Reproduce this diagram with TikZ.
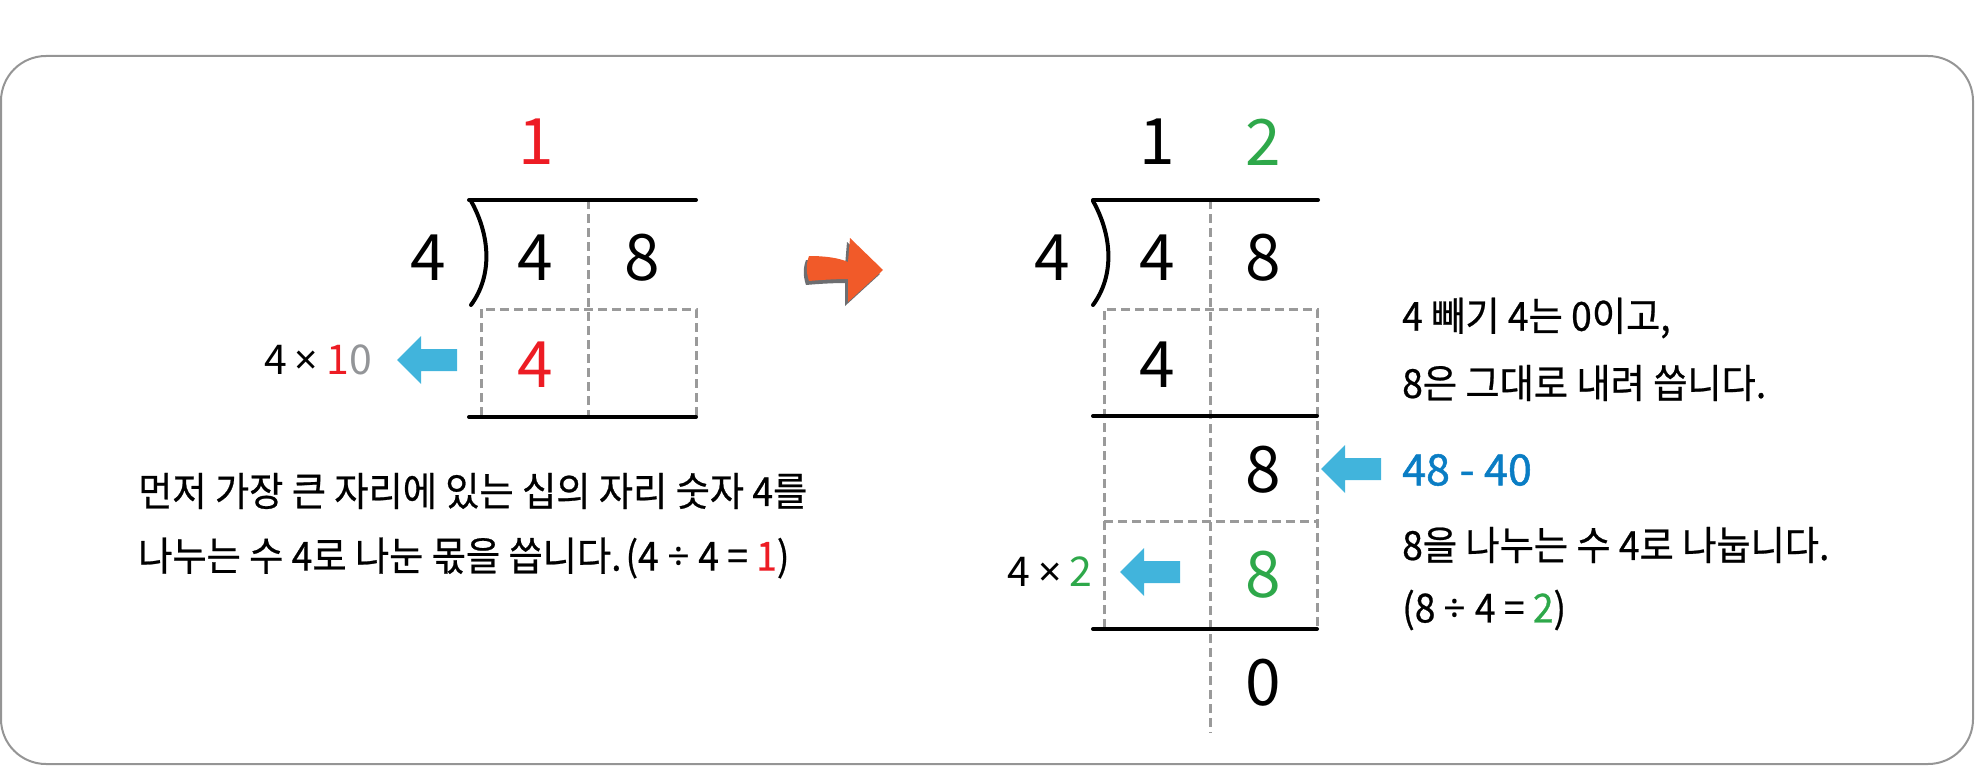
\documentclass[tikz,border=0pt]{standalone}
\usepackage{fontspec}
\setmainfont{Noto Sans CJK KR}
\newfontfamily\kr[FakeStretch=0.93, FakeBold=0.6]{Noto Sans CJK KR}
\newfontfamily\krb[FakeBold=1.2]{Noto Sans CJK KR}
\newfontfamily\sym{Noto Sans}
\newcommand\xmul{{\sym ×}}
\newcommand\xdiv{{\sym ÷}}
\definecolor{qred}{HTML}{ED1C24}
\definecolor{qgreen}{HTML}{2EA84A}
\definecolor{arrowblue}{HTML}{41B4DC}
\definecolor{textblue}{HTML}{0A7DC4}
\definecolor{dashgray}{HTML}{9A9A9A}
\definecolor{framegray}{HTML}{959595}
\definecolor{orangearrow}{HTML}{F15A29}
\definecolor{shadowgray}{HTML}{6D6E71}
\definecolor{zerogray}{HTML}{939598}
\begin{document}
\begin{tikzpicture}[x=1pt, y=-1pt,
    big/.style = {inner sep=0pt, font=\fontsize{64}{64}\selectfont},
    small/.style = {inner sep=0pt, font=\fontsize{41}{41}\selectfont},
    txt/.style = {inner sep=0pt, anchor=west, font=\kr\fontsize{40}{40}\selectfont},
    rule/.style = {line width=4pt, line cap=round},
    grid/.style = {line width=3pt, dashgray, dash pattern=on 9pt off 5pt},
    larrow/.pic = {\fill[arrowblue] (0,0) -- (24,-24) -- (24,-11) -- (60,-11) -- (60,11) -- (24,11) -- (24,24) -- cycle;}]
    \useasboundingbox (0,0) rectangle (1975,768);
    \draw[framegray, line width=2pt, rounded corners=45pt] (1,56) rectangle (1973,764);

    \draw[grid] (588,200) -- (588,416);
    \draw[grid] (481,416) -- (481,309) -- (696,309) -- (696,416);
    \draw[rule] (469,200) -- (696,200);
    \draw[rule] (469,417) -- (696,417);
    \draw[rule] (471,201) .. controls (490,235) and (493,275) .. (471,305);
    \node[big, qred] (q1) at (536,142) {1};
    \node[big] (d1) at (428,258) {4};
    \node[big] (a1) at (535,258) {4};
    \node[big] (b1) at (642,258) {8};
    \node[big, qred] (m1) at (535,365) {4};
    \node[small] (p1) at (318,360) {4\hspace{8pt}\xmul\hspace{8pt}\textcolor{qred}{1}\textcolor{zerogray}{0}};
    \pic at (397,360) {larrow};
    \node[txt] (s1) at (138,491) {먼저 가장 큰 자리에 있는 십의 자리 숫자 4를};
    \node[txt] (s2) at (138,558) {나누는 수 4로 나눈 몫을 씁니다.\hspace{4pt}(4 \xdiv{} 4 = \textcolor{qred}{1})};

    \fill[shadowgray] (806,260) .. controls (823,260) and (836,262) .. (845,266) -- (847,242) -- (880,274) -- (845,306) -- (845,283) .. controls (832,283) and (817,284) .. (806,285) .. controls (803,276) and (803,268) .. (806,260) -- cycle;
    \fill[orangearrow] (809,256) .. controls (826,256) and (839,258) .. (848,262) -- (850,238) -- (883,270) -- (848,302) -- (848,279) .. controls (835,279) and (820,280) .. (809,281) .. controls (806,272) and (806,264) .. (809,256) -- cycle;

    \draw[grid] (1210,200) -- (1210,733);
    \draw[grid] (1104,628) -- (1104,309) -- (1317,309) -- (1317,628);
    \draw[grid] (1104,521) -- (1317,521);
    \draw[rule] (1093,200) -- (1318,200);
    \draw[rule] (1093,416) -- (1317,416);
    \draw[rule] (1093,629) -- (1317,629);
    \draw[rule] (1093,201) .. controls (1112,235) and (1115,275) .. (1093,305);
    \node[big] (q2) at (1157,142) {1};
    \node[big, qgreen] (r2) at (1263,142) {2};
    \node[big] (d2) at (1052,258) {4};
    \node[big] (a2) at (1157,258) {4};
    \node[big] (b2) at (1263,258) {8};
    \node[big] (m2) at (1157,365) {4};
    \node[big] (c2) at (1263,470) {8};
    \node[big, qgreen] (n2) at (1263,575) {8};
    \node[big] (z2) at (1263,683) {0};
    \node[small] (p2) at (1050,572) {4\hspace{8pt}\xmul\hspace{8pt}\textcolor{qgreen}{2}};
    \pic at (1120,572) {larrow};
    \pic at (1321,469) {larrow};

    \node[txt] (t1) at (1402,318) {4 빼기 4는 0이고,};
    \node[txt] (t2) at (1402,383) {8은 그대로 내려 씁니다.};
    \node[txt, textblue, font=\krb\fontsize{43}{43}\selectfont] (t3) at (1402,470) {48 - 40};
    \node[txt] (t4) at (1402,545) {8을 나누는 수 4로 나눕니다.};
    \node[txt] (t5) at (1402,610) {(8 \xdiv{} 4 = \textcolor{qgreen}{2})};
\end{tikzpicture}
\end{document}
